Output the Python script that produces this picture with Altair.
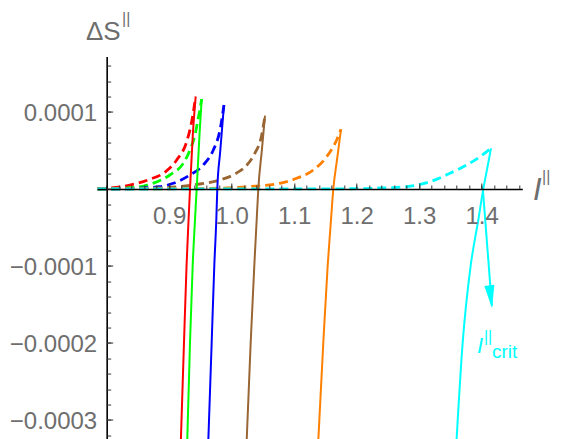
import altair as alt
import pandas as pd

# ---------------- data (y values in units of 1e-4) ----------------
SERIES = ["red", "green", "blue", "brown", "orange", "cyan"]
COLORS = ["#ff0000", "#00ff00", "#0000ff", "#996633", "#ff8000", "#00ffff"]

RED_DASH_X = [0.785, 0.837, 0.869, 0.893, 0.912, 0.928, 0.936, 0.9424]
RED_DASH_Y = [0.0, 0.05, 0.126, 0.217, 0.377, 0.614, 0.874, 1.199]
RED_SOLID_X = [0.9182, 0.9237, 0.9278, 0.9310, 0.9333, 0.9378, 0.9424]
RED_SOLID_Y = [-3.39, -1.996, -0.996, -0.403, 0.0, 0.701, 1.199]

GREEN_DASH_X = [0.785, 0.845, 0.869, 0.901, 0.9226, 0.9333, 0.9413, 0.9466, 0.9520]
GREEN_DASH_Y = [0.0, 0.02, 0.061, 0.182, 0.334, 0.506, 0.701, 0.918, 1.169]
GREEN_SOLID_X = [0.9285, 0.9333, 0.9376, 0.9413, 0.9440, 0.9485, 0.9520]
GREEN_SOLID_Y = [-3.39, -1.996, -0.996, -0.403, 0.0, 0.701, 1.169]

BLUE_DASH_X = [0.785, 0.837, 0.885, 0.9066, 0.9333, 0.9546, 0.9706, 0.9813, 0.9877]
BLUE_DASH_Y = [0.0, 0.006, 0.03, 0.074, 0.182, 0.312, 0.506, 0.766, 1.091]
BLUE_SOLID_X = [0.9621, 0.9680, 0.9722, 0.9754, 0.9770, 0.9816, 0.9877]
BLUE_SOLID_Y = [-3.39, -1.996, -0.996, -0.403, 0.0, 0.484, 1.091]

BROWN_DASH_X = [0.785, 0.885, 0.949, 0.9813, 1.0053, 1.0245, 1.0373, 1.047, 1.0533]
BROWN_DASH_Y = [0.0, 0.013, 0.065, 0.117, 0.195, 0.312, 0.468, 0.662, 0.952]
BROWN_SOLID_X = [1.0234, 1.0304, 1.0362, 1.0400, 1.0426, 1.0483, 1.0533]
BROWN_SOLID_Y = [-3.39, -1.996, -0.996, -0.403, 0.0, 0.506, 0.952]

ORANGE_DASH_X = [0.785, 0.949, 1.029, 1.0773, 1.104, 1.1306, 1.152, 1.168, 1.1749]
ORANGE_DASH_Y = [0.0, 0.006, 0.032, 0.074, 0.139, 0.247, 0.419, 0.636, 0.775]
ORANGE_SOLID_X = [1.1378, 1.1466, 1.1536, 1.1589, 1.1626, 1.1685, 1.1749]
ORANGE_SOLID_Y = [-3.39, -1.996, -0.996, -0.403, 0.0, 0.377, 0.775]

CYAN_DASH_X = [0.785, 1.189, 1.237, 1.28, 1.3173, 1.3493, 1.376, 1.3973, 1.4149]
CYAN_DASH_Y = [0.0, 0.003, 0.013, 0.03, 0.095, 0.204, 0.312, 0.419, 0.528]
CYAN_SOLID_X = [1.3589, 1.3696, 1.3824, 1.3946, 1.4026, 1.4090, 1.4149]
CYAN_SOLID_Y = [-3.39, -1.996, -0.996, -0.403, 0.0, 0.273, 0.528]

X_TICKS = [0.9, 1.0, 1.1, 1.2, 1.3, 1.4]
Y_TICKS = [-3e-4, -2e-4, -1e-4, 1e-4]

DASHED = {
    "red": (RED_DASH_X, RED_DASH_Y), "green": (GREEN_DASH_X, GREEN_DASH_Y),
    "blue": (BLUE_DASH_X, BLUE_DASH_Y), "brown": (BROWN_DASH_X, BROWN_DASH_Y),
    "orange": (ORANGE_DASH_X, ORANGE_DASH_Y), "cyan": (CYAN_DASH_X, CYAN_DASH_Y),
}
SOLID = {
    "red": (RED_SOLID_X, RED_SOLID_Y), "green": (GREEN_SOLID_X, GREEN_SOLID_Y),
    "blue": (BLUE_SOLID_X, BLUE_SOLID_Y), "brown": (BROWN_SOLID_X, BROWN_SOLID_Y),
    "orange": (ORANGE_SOLID_X, ORANGE_SOLID_Y), "cyan": (CYAN_SOLID_X, CYAN_SOLID_Y),
}


def frame(d):
    rows = []
    for s, (xs, ys) in d.items():
        for i, (xv, yv) in enumerate(zip(xs, ys)):
            rows.append({"series": s, "i": i, "x": xv, "y": yv * 1e-4})
    return pd.DataFrame(rows)


dash_df = frame(DASHED)
solid_df = frame(SOLID)

# ---------------- layout ----------------
X_MIN, X_MAX = 0.785, 1.465
Y_MIN, Y_MAX = -3.25e-4, 1.72e-4
PX_X = 625.0          # pixels per unit of x
PX_Y = 77.0 / 1e-4    # pixels per unit of y
W = (X_MAX - X_MIN) * PX_X
H = (Y_MAX - Y_MIN) * PX_Y
X0_OFF = (0.8 - X_MIN) * PX_X     # position of the y axis from the left
Y0_TOP = Y_MAX * PX_Y             # position of the x axis from the top
Y0_BOT = -Y_MIN * PX_Y

XS = alt.Scale(domain=[X_MIN, X_MAX], nice=False, zero=False)
YS = alt.Scale(domain=[Y_MIN, Y_MAX], nice=False, zero=False)
COL = alt.Color("series:N", scale=alt.Scale(domain=SERIES, range=COLORS), legend=None)

FONT = "Liberation Sans, Arial"
GREY = "#6e6e6e"
TICK = "#333333"

x_label_axis = alt.Axis(orient="bottom", offset=-Y0_BOT, values=X_TICKS, format=".1f",
                        ticks=False, tickSize=0, grid=False, domain=True, domainColor="black",
                        domainWidth=1.6, labelFont=FONT, labelFontSize=24, labelColor=GREY,
                        labelPadding=15, title=None, zindex=1, labelFlush=False)
y_label_axis = alt.Axis(orient="left", offset=-X0_OFF, values=Y_TICKS, format=".4f",
                        ticks=False, tickSize=0, grid=False, domain=True, domainColor="black",
                        domainWidth=1.6, labelFont=FONT, labelFontSize=24, labelColor=GREY,
                        labelPadding=10, labelOffset=1.5, title=None, zindex=1, labelFlush=False)
x_major_axis = alt.Axis(orient="top", offset=-Y0_TOP, values=X_TICKS, labels=False,
                        domain=False, grid=False, ticks=True, tickSize=6, tickColor=TICK,
                        tickWidth=1, title=None, zindex=1)
y_major_axis = alt.Axis(orient="right", offset=-(W - X0_OFF), values=Y_TICKS, labels=False,
                        domain=False, grid=False, ticks=True, tickSize=6, tickColor=TICK,
                        tickWidth=1, title=None, zindex=1)
x_minor_axis = alt.Axis(orient="top", offset=-Y0_TOP,
                        values=[round(0.8 + 0.02 * k, 2) for k in range(34)], labels=False,
                        domain=False, grid=False, ticks=True, tickSize=4, tickColor=TICK,
                        tickWidth=1, title=None, zindex=1)
y_minor_axis = alt.Axis(orient="right", offset=-(W - X0_OFF),
                        values=[round(-3.2e-4 + 2e-5 * k, 7) for k in range(25)], labels=False,
                        domain=False, grid=False, ticks=True, tickSize=4, tickColor=TICK,
                        tickWidth=1, title=None, zindex=1)

dashed = alt.Chart(dash_df).mark_line(
    strokeDash=[9, 5], strokeWidth=2.8, interpolate="monotone", clip=True
).encode(
    x=alt.X("x:Q", scale=XS, axis=x_label_axis),
    y=alt.Y("y:Q", scale=YS, axis=y_label_axis),
    color=COL, order="i:Q", detail="series:N",
)

solid = alt.Chart(solid_df).mark_line(
    strokeWidth=2, interpolate="monotone", clip=True
).encode(
    x=alt.X("x:Q", scale=XS, axis=x_major_axis),
    y=alt.Y("y:Q", scale=YS, axis=y_major_axis),
    color=COL, order="i:Q", detail="series:N",
)

CYAN = "#00ffff"
arrow_rule = alt.Chart().mark_rule(color=CYAN, strokeWidth=2).encode(
    x=alt.XDatum(1.4016, scale=XS, axis=x_minor_axis),
    y=alt.YDatum(0.03e-4, scale=YS, axis=y_minor_axis),
    x2=alt.X2Datum(1.4163),
    y2=alt.Y2Datum(-1.52e-4),
)
arrow_head = alt.Chart().mark_point(
    shape="M -0.22 -1 L 0.22 -1 L 0 0 Z", size=2116, filled=True, fill=CYAN,
    color=CYAN, opacity=1, angle=353.3, strokeWidth=0
).encode(
    x=alt.XDatum(1.4166, scale=XS, axis=None),
    y=alt.YDatum(-1.549e-4, scale=YS, axis=None),
)


def label(txt, xv, yv, size, color, italic=False):
    return alt.Chart().mark_text(
        text=txt, font=FONT, fontSize=size, color=color, align="left",
        baseline="alphabetic", fontStyle="italic" if italic else "normal"
    ).encode(
        x=alt.XDatum(xv, scale=XS, axis=None),
        y=alt.YDatum(yv, scale=YS, axis=None),
    )


texts = [
    label("ΔS", 0.7669, 1.935e-4, 26, GREY),
    label("||", 0.8245, 2.143e-4, 16, GREY),
    label("I", 1.4821, -0.143e-4, 31, GREY, italic=True),
    label("||", 1.4965, 0.096e-4, 16, GREY),
    label("I", 1.3925, -2.13e-4, 22, CYAN, italic=True),
    label("||", 1.4036, -1.982e-4, 16, CYAN),
    label("crit", 1.4165, -2.195e-4, 19, CYAN),
]

chart = alt.layer(dashed, solid, arrow_rule, arrow_head, *texts).resolve_axis(
    x="independent", y="independent"
).properties(
    width=W, height=H, autosize="none",
    padding={"left": 97.3 - 8, "top": 56.56 - 8, "right": 30, "bottom": 0},
).configure_view(strokeWidth=0)

chart.save("out.html", embed_options={"renderer": "svg", "actions": False})
